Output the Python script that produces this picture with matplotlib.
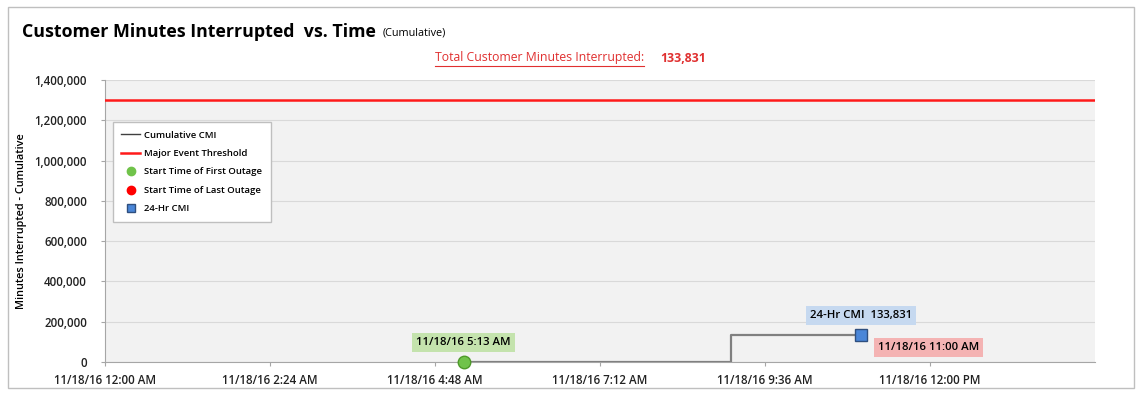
import matplotlib
matplotlib.use("Agg")
import matplotlib.pyplot as plt
from matplotlib.patches import Rectangle
from matplotlib.lines import Line2D

plt.rcParams['font.family'] = ['Open Sans', 'DejaVu Sans']

# times in hours after midnight 11/18/16
tick_hours = [0, 2.4, 4.8, 7.2, 9.6, 12.0]
tick_labels = ["11/18/16 12:00 AM", "11/18/16 2:24 AM", "11/18/16 4:48 AM",
               "11/18/16 7:12 AM", "11/18/16 9:36 AM", "11/18/16 12:00 PM"]
y_ticks = [0, 200000, 400000, 600000, 800000, 1000000, 1200000, 1400000]

cmi_hours = [5 + 13 / 60, 9.1, 11.0]
cmi_values = [0, 133831, 133831]
threshold = 1300000
first_outage = 5 + 13 / 60
last_outage = 11.0
total_cmi = 133831

fig = plt.figure(figsize=(11.4, 3.93), dpi=100)
fig.patches.append(Rectangle((0.007, 0.012), 0.988, 0.97, transform=fig.transFigure,
                             fill=False, edgecolor='#bfbfbf', linewidth=1.0))

ax = fig.add_axes([105 / 1140, 1 - 362 / 393, (1095 - 105) / 1140, (362 - 80) / 393])
ax.set_facecolor('#f2f2f2')
ax.set_xlim(0, 14.4)
ax.set_ylim(0, 1400000)

ax.set_yticks(y_ticks)
ax.set_yticklabels([f"{v:,}" for v in y_ticks])
ax.set_xticks(tick_hours)
ax.set_xticklabels(tick_labels)
ax.tick_params(axis='both', labelsize=8.3, colors='#a6a6a6', length=3, width=0.8)
ax.tick_params(axis='x', pad=6)
ax.tick_params(axis='y', pad=10)
for lab in ax.get_xticklabels() + ax.get_yticklabels():
    lab.set_fontweight('semibold')
    lab.set_color('#222222')
ax.grid(axis='y', color='#d9d9d9', linewidth=0.8)
ax.set_axisbelow(True)
for s in ['top', 'right']:
    ax.spines[s].set_visible(False)
for s in ['left', 'bottom']:
    ax.spines[s].set_color('#a6a6a6')
    ax.spines[s].set_linewidth(0.8)

ax.set_ylabel("Minutes Interrupted - Cumulative", fontsize=7.8, fontweight='semibold', labelpad=5)

ax.axhline(threshold, color='#ff1a1a', linewidth=1.8, zorder=3)
ax.plot(cmi_hours, cmi_values, drawstyle='steps-post', color='#808080', linewidth=1.6, zorder=3)
ax.plot(last_outage, cmi_values[-1], 'o', color='#ff0000', markersize=7, zorder=4)
ax.plot(first_outage, 0, 'o', color='#70c34a', markeredgecolor='#4e9a2a', markersize=9,
        zorder=5, clip_on=False)
ax.plot(last_outage, total_cmi, 's', color='#4a86d8', markeredgecolor='#2f4f7f', markersize=8, zorder=5)

ax.annotate("11/18/16 5:13 AM", (first_outage, 0), xytext=(0, 14), textcoords='offset points',
            ha='center', va='center', fontsize=8.2, fontweight='semibold',
            bbox=dict(boxstyle='square,pad=0.35', fc='#c4e3ad', ec='none'))
ax.annotate(f"24-Hr CMI  {total_cmi:,}", (last_outage, total_cmi), xytext=(0, 14),
            textcoords='offset points', ha='center', va='center', fontsize=8.2,
            fontweight='semibold', bbox=dict(boxstyle='square,pad=0.35', fc='#c6d9f0', ec='none'))
ax.annotate("11/18/16 11:00 AM", (last_outage, total_cmi), xytext=(12, -9),
            textcoords='offset points', ha='left', va='center', fontsize=8.2,
            fontweight='semibold', bbox=dict(boxstyle='square,pad=0.35', fc='#f4b3b3', ec='none'))

handles = [
    Line2D([], [], color='#404040', linewidth=1.0),
    Line2D([], [], color='#ff1a1a', linewidth=1.8),
    Line2D([], [], marker='o', color='#70c34a', linestyle='none', markersize=6),
    Line2D([], [], marker='o', color='#ff0000', linestyle='none', markersize=6),
    Line2D([], [], marker='s', color='#4a86d8', markeredgecolor='#2f4f7f', linestyle='none', markersize=6),
]
names = ["Cumulative CMI", "Major Event Threshold", "Start Time of First Outage",
         "Start Time of Last Outage", "24-Hr CMI"]
leg = ax.legend(handles, names, loc='upper left', bbox_to_anchor=(0.008, 0.851), fontsize=6.8,
                frameon=True, fancybox=False, edgecolor='#bfbfbf', facecolor='white',
                framealpha=1, handlelength=2.0, handletextpad=0.4, labelspacing=1.0,
                borderpad=0.9, borderaxespad=0)
for t in leg.get_texts():
    t.set_fontweight('semibold')

fig.text(22 / 1140, 1 - 32 / 393, "Customer Minutes Interrupted  vs. Time", fontsize=12.8,
         fontweight='bold', va='center', ha='left')
fig.text(383 / 1140, 1 - 33 / 393, "(Cumulative)", fontsize=7.8, va='center', ha='left')

t1 = fig.text(435 / 1140, 1 - 58 / 393, "Total Customer Minutes Interrupted:", fontsize=8.8,
              color='#e03030', va='center', ha='left')
fig.canvas.draw()
bb = t1.get_window_extent()
fig.add_artist(Line2D([bb.x0 / 1140, bb.x1 / 1140], [(bb.y0 - 1) / 393, (bb.y0 - 1) / 393],
                      transform=fig.transFigure, color='#e03030', linewidth=0.8))
fig.text(660 / 1140, 1 - 58 / 393, f"{total_cmi:,}", fontsize=8.8, fontweight='bold',
         color='#e03030', va='center', ha='left')

fig.savefig("out.png", dpi=100)
